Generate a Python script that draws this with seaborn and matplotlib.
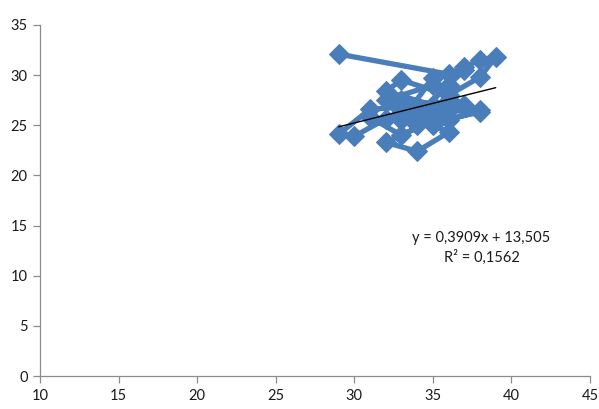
import matplotlib
matplotlib.use("Agg")
import matplotlib.pyplot as plt
import seaborn as sns
import numpy as np
import pandas as pd

# Data (in drawing order)
x_vals = [29, 36, 37, 38, 39, 38, 36, 33, 32, 35, 31, 29, 30, 33, 36, 34, 32, 35,
          37, 33, 36, 38, 34, 32, 35, 37, 33, 31, 35, 36, 34, 38, 36, 33, 35, 37,
          36, 34, 32, 35]
y_vals = [32.1, 30.1, 30.8, 31.5, 31.8, 29.8, 28.0, 29.5, 28.4, 27.0, 26.6, 24.1,
          23.9, 26.5, 24.3, 22.4, 23.3, 25.5, 26.8, 27.5, 26.5, 26.3, 25.0, 27.5,
          29.0, 27.0, 24.0, 25.8, 25.0, 27.5, 26.5, 26.5, 25.5, 25.5, 29.7, 30.5,
          29.0, 26.0, 25.6, 26.2]
trend_slope = 0.3909
trend_intercept = 13.505
equation_text = "y = 0,3909x + 13,505"
r2_text = "R² = 0,1562"
x_ticks = [10, 15, 20, 25, 30, 35, 40, 45]
y_ticks = [0, 5, 10, 15, 20, 25, 30, 35]

sns.set_style("white")
plt.rcParams['font.family'] = ['Lato', 'DejaVu Sans']

fig = plt.figure(figsize=(5.99, 4.09), dpi=100)
ax = fig.add_axes([40/599, 33/409, 550/599, 351/409])

df = pd.DataFrame({"x": x_vals, "y": y_vals})
blue = "#4A7EBB"
sns.lineplot(data=df, x="x", y="y", sort=False, estimator=None, ax=ax,
             color=blue, linewidth=3.8, marker="D", markersize=10,
             markeredgecolor=blue, markerfacecolor=blue)

tx = np.array([min(x_vals), max(x_vals)])
ax.plot(tx, trend_slope * tx + trend_intercept, color="black", linewidth=1.0)

ax.text(38.1, 13.8, equation_text, ha="center", va="center", fontsize=10.5, color="#1a1a1a")
ax.text(38.1, 11.8, r2_text, ha="center", va="center", fontsize=10.5, color="#1a1a1a")

ax.set_xlim(10, 45)
ax.set_ylim(0, 35)
ax.set_xticks(x_ticks)
ax.set_yticks(y_ticks)
ax.set_xlabel("")
ax.set_ylabel("")
for s in ["top", "right"]:
    ax.spines[s].set_visible(False)
for s in ["left", "bottom"]:
    ax.spines[s].set_color("#8c8c8c")
    ax.spines[s].set_linewidth(0.9)
ax.tick_params(axis="both", which="major", direction="out", length=5, width=0.9,
               color="#8c8c8c", labelsize=10.5, labelcolor="#1a1a1a", pad=4,
               bottom=True, left=True)
ax.grid(False)

fig.savefig("out.png", dpi=100)
